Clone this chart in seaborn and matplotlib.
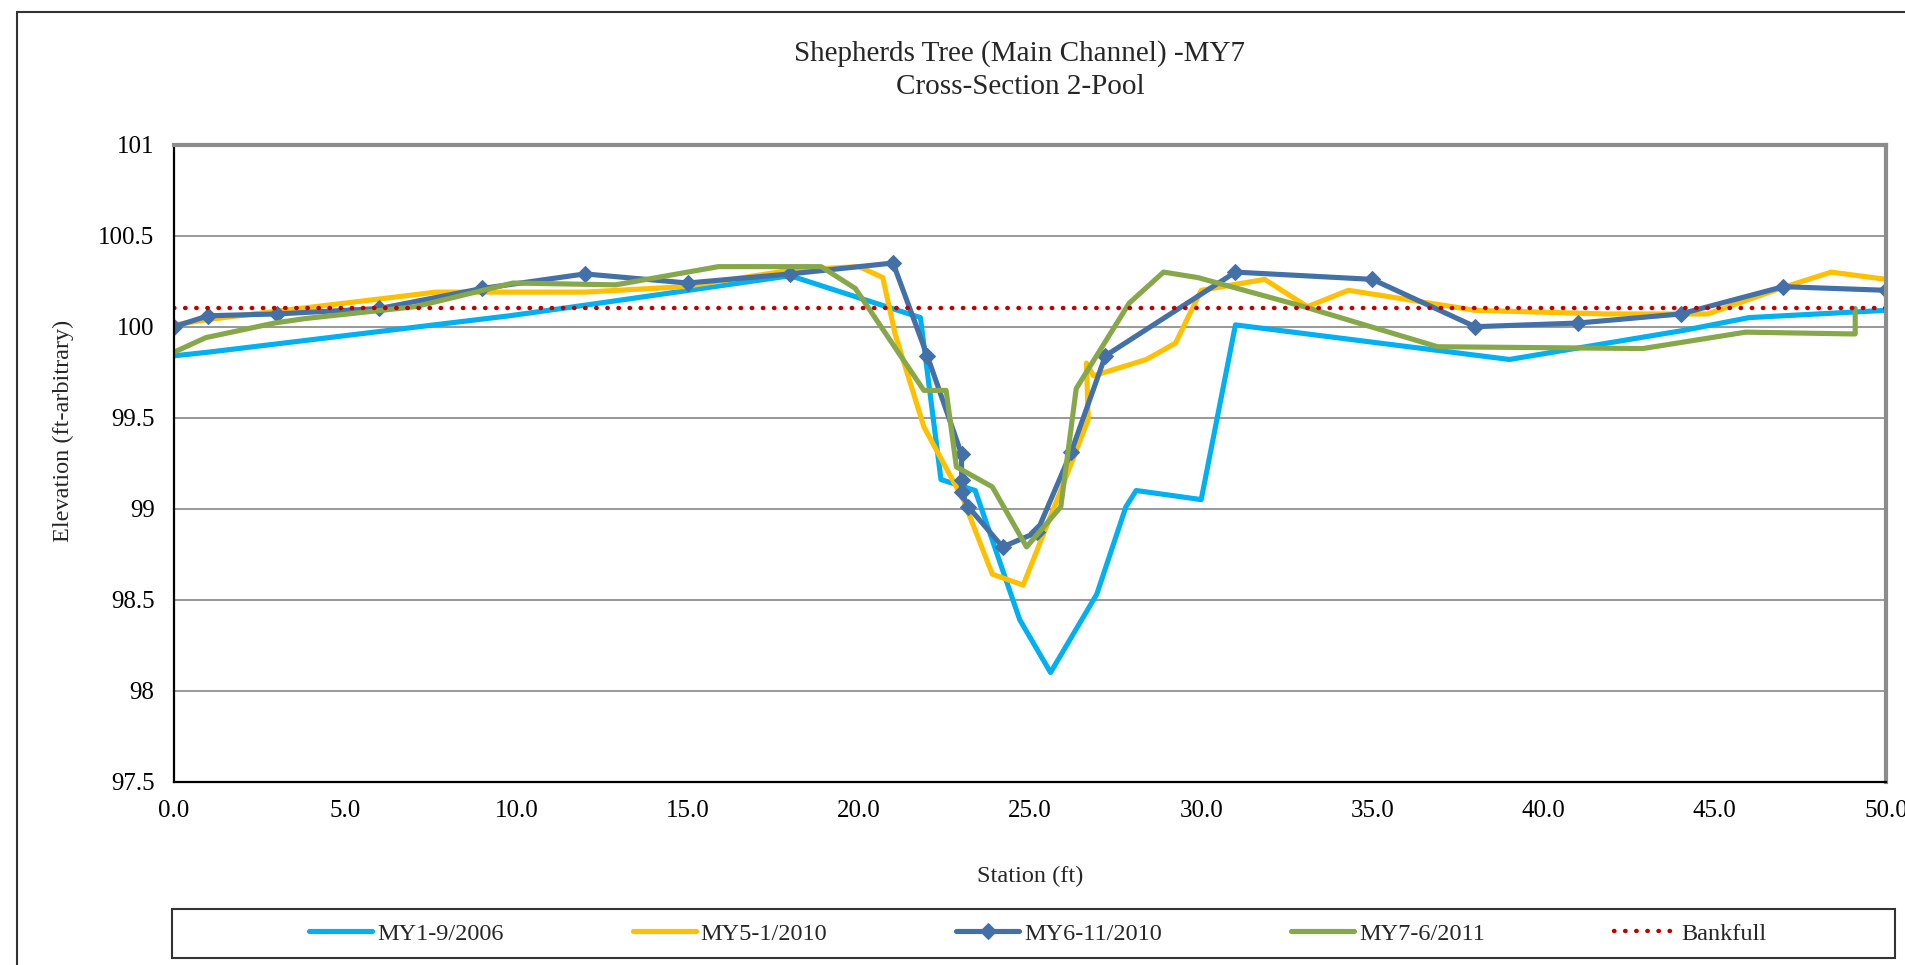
import matplotlib
matplotlib.use("Agg")
import matplotlib.pyplot as plt
from matplotlib.lines import Line2D
from matplotlib.patches import Rectangle
import numpy as np
import seaborn as sns

# cross-section survey data (station ft, elevation ft)
my1_sta = [0.0, 1.0, 9.8, 11.7, 18.0, 21.8, 22.4, 23.4, 24.7, 25.6, 26.95, 27.8, 28.1,
           30.0, 31.0, 39.0, 44.1, 46.0, 50.0]
my1_elev = [99.84, 99.86, 100.06, 100.11, 100.28, 100.05, 99.16, 99.10, 98.39, 98.10, 98.53,
            99.01, 99.10, 99.05, 100.01, 99.82, 99.98, 100.05, 100.09]

my5_sta = [0.0, 1.0, 5.9, 7.65, 12.0, 14.9, 18.0, 20.0, 20.7, 21.06, 21.9, 23.05, 23.9, 24.8,
           25.9, 26.7, 26.65, 26.85, 28.4, 29.25, 30.0, 31.85, 33.1, 34.3, 38.0, 41.8, 44.8,
           46.9, 48.4, 50.0]
my5_elev = [100.01, 100.04, 100.15, 100.19, 100.19, 100.22, 100.31, 100.33, 100.27, 99.96,
            99.45, 99.05, 98.64, 98.58, 99.10, 99.49, 99.80, 99.73, 99.82, 99.91, 100.20,
            100.26, 100.11, 100.20, 100.09, 100.07, 100.07, 100.21, 100.30, 100.26]

my6_sta = [0.0, 1.0, 3.0, 6.0, 9.0, 12.0, 15.0, 18.0, 21.0, 22.0, 23.0, 23.0, 23.0, 23.2,
           24.2, 25.2, 26.2, 27.2, 31.0, 35.0, 38.0, 41.0, 44.0, 47.0, 50.0]
my6_elev = [100.0, 100.06, 100.07, 100.10, 100.21, 100.29, 100.24, 100.29, 100.35, 99.84,
            99.30, 99.16, 99.09, 99.01, 98.79, 98.87, 99.31, 99.84, 100.30, 100.26, 100.0,
            100.02, 100.07, 100.22, 100.20]

my7_sta = [0.0, 0.93, 2.93, 3.84, 7.05, 9.9, 12.9, 15.9, 18.9, 19.9, 21.9, 22.55, 22.85,
           23.9, 24.9, 25.9, 26.35, 27.9, 28.9, 29.9, 33.0, 36.9, 42.9, 45.9, 49.1, 49.1]
my7_elev = [99.86, 99.94, 100.02, 100.045, 100.11, 100.24, 100.23, 100.33, 100.33, 100.21,
            99.65, 99.65, 99.23, 99.12, 98.79, 99.01, 99.66, 100.13, 100.30, 100.27, 100.11,
            99.89, 99.88, 99.97, 99.96, 100.10]

bank_sta = [0.0, 50.0]
bank_elev = [100.1, 100.1]

x_ticks = np.arange(0, 50.1, 5)
y_ticks = np.arange(97.5, 101.01, 0.5)

sns.set_style("white")
plt.rcParams['font.family'] = ['Liberation Serif', 'DejaVu Serif']

W, H = 1906, 965
fig = plt.figure(figsize=(W / 100, H / 100), dpi=100)
ax = fig.add_axes([174 / W, 1 - 781.7 / H, 1712 / W, 637 / H])

series = [
    (my1_sta, my1_elev, '#00B0F0', None, 'MY1-9/2006'),
    (my5_sta, my5_elev, '#FFC000', None, 'MY5-1/2010'),
    (my6_sta, my6_elev, '#4470A8', 'D', 'MY6-11/2010'),
    (my7_sta, my7_elev, '#86A84A', None, 'MY7-6/2011'),
]
for sta, elev, col, mk, lab in series:
    kw = dict(marker=mk, markersize=8, markeredgecolor=col, markerfacecolor=col) if mk else {}
    sns.lineplot(x=sta, y=elev, ax=ax, sort=False, estimator=None, color=col,
                 lw=3.7, label=lab, legend=False, **kw)

sns.lineplot(x=bank_sta, y=bank_elev, ax=ax, sort=False, estimator=None, color='#C00000',
             lw=3.2, linestyle=(0, (0.1, 2.4)), dash_capstyle='round', label='Bankfull',
             legend=False)

ax.set_xlim(0, 50)
ax.set_ylim(97.5, 101)
ax.set_xticks(x_ticks)
ax.set_xticklabels([f"{v:.1f}" for v in x_ticks])
ax.set_yticks(y_ticks)
ax.set_yticklabels([f"{v:g}" for v in y_ticks])
ax.yaxis.grid(True, color='#868686', lw=1.2)
ax.xaxis.grid(False)
ax.set_axisbelow(True)

for s in ['left', 'bottom']:
    ax.spines[s].set_color('black')
    ax.spines[s].set_linewidth(1.6)
for s in ['top', 'right']:
    ax.spines[s].set_color('#8c8c8c')
    ax.spines[s].set_linewidth(3)

ax.tick_params(axis='both', direction='out', length=6, width=1, color='#808080',
               labelsize=18, labelcolor='black')
ax.tick_params(axis='y', pad=8)
ax.tick_params(axis='x', pad=7)

ax.set_xlabel('Station (ft)', fontsize=17.5)
ax.xaxis.label.set_va('center')
ax.xaxis.set_label_coords(0.5, (781.7 - 876) / 637)
ax.set_ylabel('Elevation (ft-arbitrary)', fontsize=17.5)
ax.yaxis.label.set_va('center')
ax.yaxis.set_label_coords((63 - 174) / 1712, (781.7 - 431) / 637)

fig.text(1020 / W, 1 - 54 / H, 'Shepherds Tree (Main Channel) -MY7', fontsize=21,
         ha='center', va='center')
fig.text(1020 / W, 1 - 87 / H, 'Cross-Section 2-Pool', fontsize=21, ha='center', va='center')

# chart area border (cropped) and legend box
fig.add_artist(Line2D([17 / W, 1], [1 - 12 / H] * 2, transform=fig.transFigure,
                      color='#333333', lw=1.5))
fig.add_artist(Line2D([17 / W] * 2, [0, 1 - 12 / H], transform=fig.transFigure,
                      color='#333333', lw=1.5))
fig.add_artist(Rectangle((172 / W, 1 - 958 / H), (1895 - 172) / W, 49 / H,
                         transform=fig.transFigure, fill=False, edgecolor='#333333', lw=1.5))

handles = ax.lines[:5]
labels = [h.get_label() for h in handles]
fig.legend(handles, labels, loc='center', bbox_to_anchor=(1038 / W, 1 - 934 / H), ncol=5,
           frameon=False, fontsize=17.5, handlelength=2.6, handletextpad=0.2,
           columnspacing=5.3)

fig.savefig('out.png', dpi=100)
